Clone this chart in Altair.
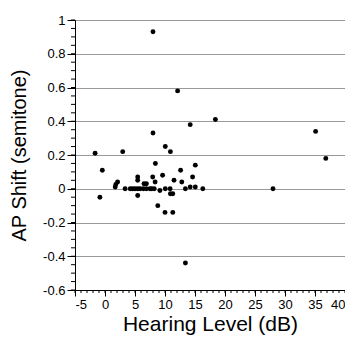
import altair as alt
import pandas as pd

# Data (Hearing Level in dB, AP shift in semitones)
hearing_level = [8.0, 12.1, 14.2, 18.4, 8.0, 35.1, 10.05, 10.9, -1.65, 2.95,
                 36.8, 8.4, 15.05, -0.45, 12.6, 14.6, 9.6, 5.45, 5.45, 11.5,
                 12.8, 8.35, 7.95, 2.1, 1.8, 1.7, 6.5, 6.9, 14.2, 15.05,
                 3.35, 4.2, 4.6, 5.0, 5.45, 5.85, 6.4, 6.9, 7.5, 7.8,
                 8.2, 10.05, 10.85, 13.4, 16.3, 28.0, 9.15, 5.45, 10.9, 11.3,
                 -0.85, 8.8, 10.0, 11.3, 13.4]
ap_shift = [0.93, 0.58, 0.38, 0.41, 0.33, 0.34, 0.25, 0.22, 0.21, 0.22,
            0.18, 0.15, 0.14, 0.11, 0.11, 0.07, 0.08, 0.07, 0.05, 0.05,
            0.04, 0.04, 0.07, 0.04, 0.025, 0.01, 0.03, 0.03, 0.01, 0.01,
            0.0, 0.0, 0.0, 0.0, 0.0, 0.0, 0.0, 0.0, 0.0, 0.0,
            0.0, 0.0, 0.0, 0.0, 0.0, 0.0, -0.01, -0.04, -0.03, -0.03,
            -0.05, -0.10, -0.14, -0.14, -0.44]

x_major = [-5, 0, 5, 10, 15, 20, 25, 30, 35, 40]
y_major = [-0.6, -0.4, -0.2, 0, 0.2, 0.4, 0.6, 0.8, 1]
x_minor = [v for v in range(-5, 41)]
y_minor = [round(-0.6 + 0.05 * i, 2) for i in range(33)]

FONT = "Liberation Sans"

df = pd.DataFrame({"hl": hearing_level, "ap": ap_shift})
xscale = alt.Scale(domain=[-5, 40], nice=False, zero=False)
yscale = alt.Scale(domain=[-0.6, 1], nice=False, zero=False)

xaxis = alt.Axis(title="Hearing Level (dB)", values=x_major, grid=False,
                 tickSize=6, labelPadding=2, titlePadding=2, titleFontSize=21,
                 labelExpr="'' + datum.value")
yaxis = alt.Axis(title="AP Shift (semitone)", values=y_major, grid=True,
                 tickSize=8, labelPadding=2, titlePadding=13,
                 labelExpr="'' + round(datum.value * 10) / 10")

points = alt.Chart(df).mark_circle(size=24, color="black", opacity=1).encode(
    x=alt.X("hl:Q", scale=xscale, axis=xaxis),
    y=alt.Y("ap:Q", scale=yscale, axis=yaxis),
)

yminor = alt.Chart(pd.DataFrame({"v": y_minor})).mark_rule(color="black", strokeWidth=1).encode(
    y=alt.Y("v:Q", scale=yscale, axis=yaxis),
    x=alt.value(0),
    x2=alt.value(-4),
)
xminor = alt.Chart(pd.DataFrame({"v": x_minor})).mark_rule(color="black", strokeWidth=1).encode(
    x=alt.X("v:Q", scale=xscale, axis=xaxis),
    y=alt.value(270),
    y2=alt.value(273),
)

chart = alt.layer(points, yminor, xminor).properties(
    width=270, height=270,
    autosize=alt.AutoSizeParams(type="none"),
    padding={"left": 67, "top": 12, "right": 0, "bottom": 48},
).configure_view(
    stroke="black", strokeWidth=1
).configure_axis(
    labelFont=FONT, labelFontSize=13, labelColor="black",
    titleFont=FONT, titleFontSize=20, titleFontWeight="normal", titleColor="black",
    domainColor="black", tickColor="black", gridColor="#999999", gridWidth=1,
)

chart.save("out.html", embed_options={"renderer": "svg", "actions": False})
